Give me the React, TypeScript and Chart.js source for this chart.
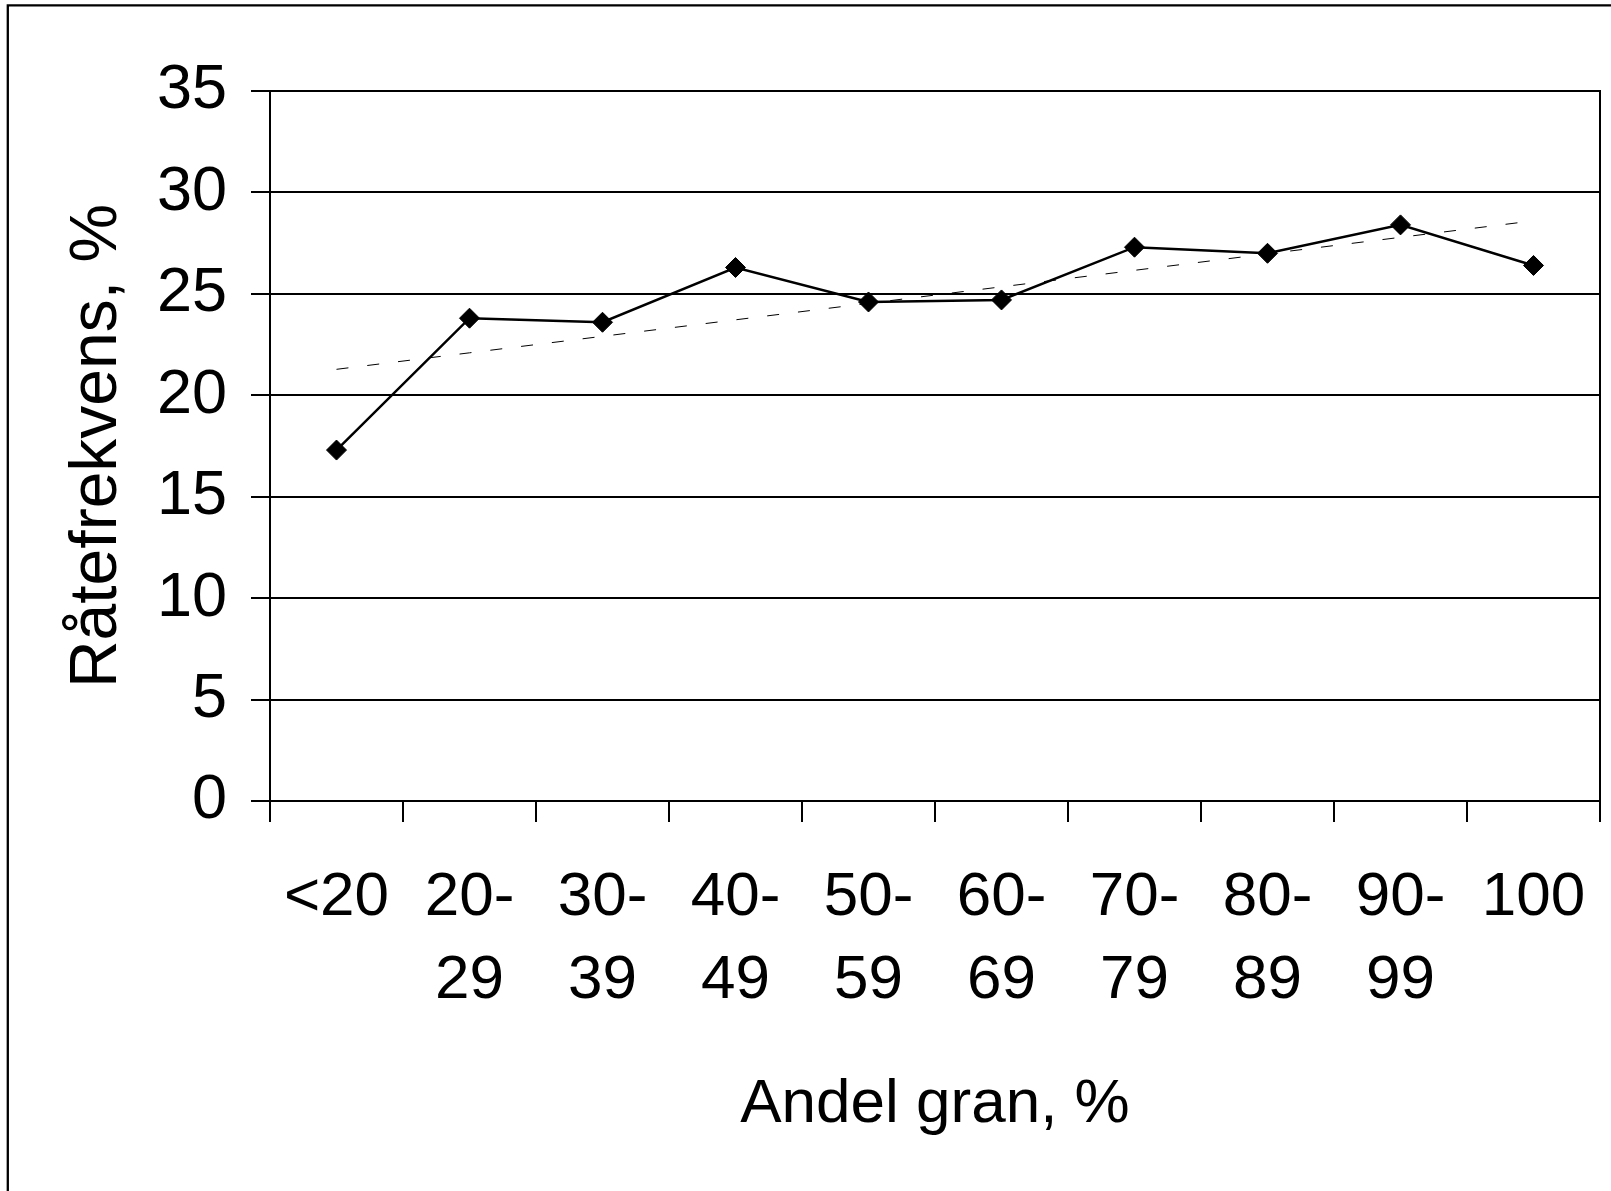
import React, { useEffect, useRef } from 'react';
import { Chart, registerables } from 'chart.js';

Chart.register(...registerables);

// ---- data ----
const categories: (string | string[])[] = [
  '<20',
  ['20-', '29'],
  ['30-', '39'],
  ['40-', '49'],
  ['50-', '59'],
  ['60-', '69'],
  ['70-', '79'],
  ['80-', '89'],
  ['90-', '99'],
  '100',
];
const rateFrequency = [17.3, 23.8, 23.6, 26.3, 24.6, 24.7, 27.3, 27.0, 28.4, 26.4];
const yMin = 0;
const yMax = 35;
const yStep = 5;
const yTitle = 'Råtefrekvens, %';
const xTitle = 'Andel gran, %';

// least-squares linear trendline of the series
function linearTrend(values: number[]): number[] {
  const n = values.length;
  const mx = (n - 1) / 2;
  const my = values.reduce((a, b) => a + b, 0) / n;
  let sxy = 0;
  let sxx = 0;
  values.forEach((v, i) => {
    sxy += (i - mx) * (v - my);
    sxx += (i - mx) * (i - mx);
  });
  const slope = sxy / sxx;
  return values.map((_, i) => my + slope * (i - mx));
}

const FONT = "'Liberation Sans', Arial, Helvetica, sans-serif";

const framePlugin = {
  id: 'framePlugin',
  beforeDraw(chart: any) {
    const ctx = chart.ctx;
    ctx.save();
    ctx.fillStyle = '#ffffff';
    ctx.fillRect(0, 0, chart.width, chart.height);
    ctx.strokeStyle = '#000000';
    ctx.lineWidth = 2.3;
    ctx.beginPath();
    ctx.moveTo(7.8, chart.height + 5);
    ctx.lineTo(7.8, 5.3);
    ctx.lineTo(chart.width + 5, 5.3);
    ctx.stroke();
    ctx.restore();
  },
  afterDraw(chart: any) {
    const { ctx, chartArea } = chart;
    ctx.save();
    ctx.strokeStyle = '#000000';
    ctx.lineWidth = 2;
    ctx.beginPath();
    const x = Math.round(chartArea.right);
    ctx.moveTo(x, chartArea.top - 1);
    ctx.lineTo(x, chartArea.bottom + 1);
    ctx.stroke();
    ctx.restore();
  },
};

export default function App() {
  const canvasRef = useRef<HTMLCanvasElement | null>(null);

  useEffect(() => {
    if (!canvasRef.current) return;
    const trend = linearTrend(rateFrequency);
    const chart = new Chart(canvasRef.current, {
      type: 'line',
      data: {
        labels: categories,
        datasets: [
          {
            label: 'Råtefrekvens',
            data: rateFrequency,
            borderColor: '#000000',
            backgroundColor: '#000000',
            borderWidth: 2.5,
            pointStyle: 'rectRot',
            pointRadius: 10,
            pointBorderWidth: 1,
            pointBackgroundColor: '#000000',
            pointBorderColor: '#000000',
            tension: 0,
            fill: false,
          },
          {
            label: 'Trend',
            data: trend,
            borderColor: '#000000',
            borderWidth: 1,
            borderDash: [12, 19],
            pointRadius: 0,
            tension: 0,
            fill: false,
          },
        ],
      },
      options: {
        responsive: false,
        animation: false,
        devicePixelRatio: 1,
        layout: { padding: { left: 0, top: 91, right: 10, bottom: 49 } },
        plugins: {
          legend: { display: false },
          tooltip: { enabled: false },
          title: { display: false },
        },
        scales: {
          x: {
            type: 'category',
            offset: true,
            afterFit: (scale: any) => {
              scale.height = 341;
              scale.paddingLeft = 0;
              scale.paddingRight = 0;
            },
            grid: {
              offset: true,
              drawOnChartArea: false,
              drawTicks: true,
              tickLength: 21,
              color: '#000000',
              lineWidth: 2,
            },
            border: { display: true, color: '#000000', width: 2 },
            ticks: {
              autoSkip: false,
              maxRotation: 0,
              minRotation: 0,
              padding: 35,
              color: '#000000',
              font: { family: FONT, size: 62, lineHeight: 1.33 },
            },
            title: {
              display: true,
              text: xTitle,
              color: '#000000',
              font: { family: FONT, size: 62, lineHeight: 1.2 },
              padding: { top: 0, bottom: 0 },
            },
          },
          y: {
            type: 'linear',
            min: yMin,
            max: yMax,
            afterFit: (scale: any) => {
              scale.width = 270;
            },
            grid: {
              drawOnChartArea: true,
              drawTicks: true,
              tickLength: 19,
              color: '#000000',
              lineWidth: 2,
            },
            border: { display: true, color: '#000000', width: 2 },
            ticks: {
              stepSize: yStep,
              padding: 24,
              color: '#000000',
              font: { family: FONT, size: 63 },
            },
            title: {
              display: true,
              text: yTitle,
              color: '#000000',
              font: { family: FONT, size: 66, lineHeight: 1.2 },
              padding: { top: 58, bottom: 0 },
            },
          },
        },
      },
      plugins: [framePlugin],
    });
    return () => chart.destroy();
  }, []);

  return (
    <div
      style={{
        position: 'absolute',
        left: 0,
        top: 0,
        width: 1611,
        height: 1191,
        background: '#ffffff',
        overflow: 'hidden',
      }}
    >
      <canvas ref={canvasRef} width={1611} height={1191} style={{ display: 'block', width: 1611, height: 1191 }} />
    </div>
  );
}
